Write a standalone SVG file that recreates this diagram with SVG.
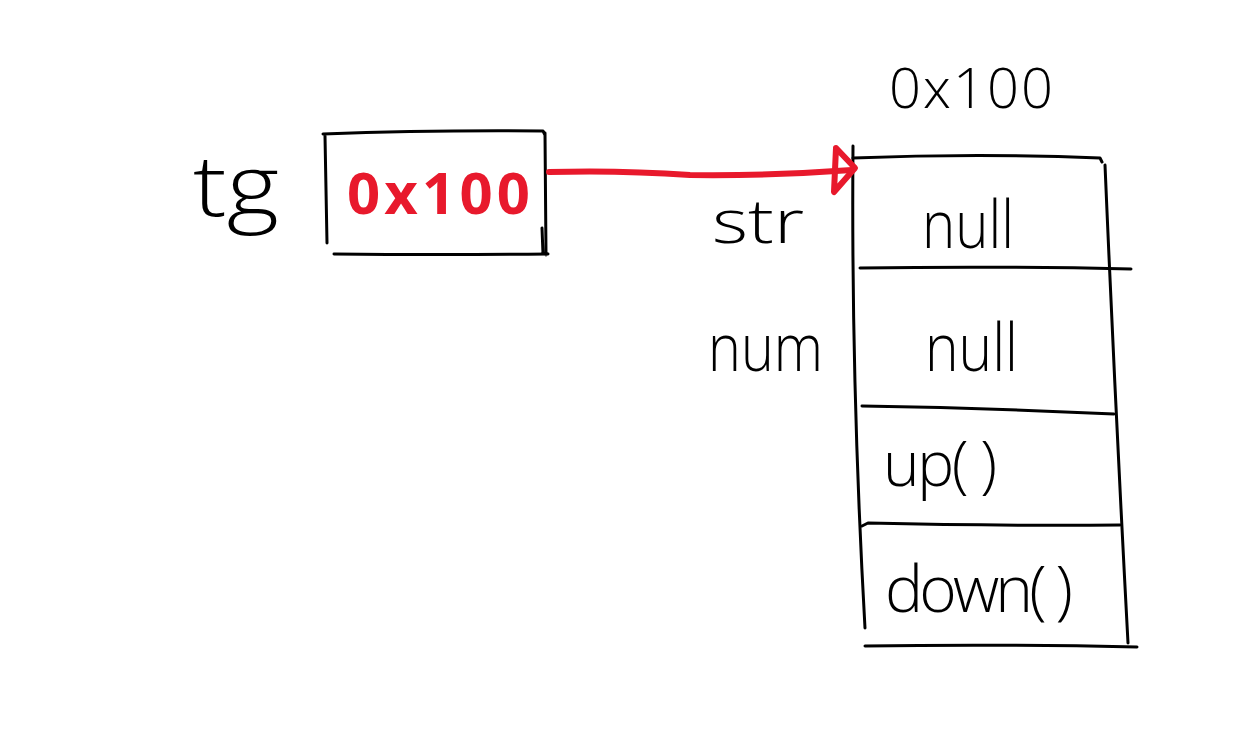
<svg xmlns="http://www.w3.org/2000/svg" width="1243" height="749" viewBox="0 0 1243 749">
  <style>
    .ink { fill: none; stroke: #000; stroke-width: 3; stroke-linecap: round; stroke-linejoin: round; }
    .red { fill: none; stroke: #e8192c; stroke-width: 6; stroke-linecap: round; stroke-linejoin: round; }
    .t { font-family: "Open Sans", "Noto Sans", "Liberation Sans", sans-serif; font-weight: 300; fill: #000; }
    .rt { font-family: "Open Sans", "Noto Sans", "Liberation Sans", sans-serif; font-weight: 700; fill: #e8192c; }
  </style>
  <rect x="0" y="0" width="1243" height="749" fill="#fff"/>

  <g id="tg-variable">
    <text class="t" x="193" y="216" font-size="84" textLength="86" lengthAdjust="spacingAndGlyphs">tg</text>
    <path class="ink" d="M323 134 Q430 130 543 131 L545 135 M325 136 L327 243 M545 133 L546 255 M542 228 L543 254 M334 254 Q440 255 548 254"/>
    <text class="rt" x="347" y="214" font-size="58" textLength="183" lengthAdjust="spacing">0x100</text>
  </g>

  <g id="object-0x100">
    <text class="t" x="889" y="108" font-size="56" textLength="164" lengthAdjust="spacing">0x100</text>
    <path class="ink" d="M853 158 Q980 153 1100 158 L1102 162"/>
    <path class="ink" d="M853 146 Q851 380 865 628"/>
    <path class="ink" d="M1105 165 Q1115 400 1128 643"/>
    <path class="ink" d="M860 268 Q1000 266 1131 269"/>
    <path class="ink" d="M862 406 Q990 408 1114 414"/>
    <path class="ink" d="M862 526 L868 523 Q1000 526 1120 525"/>
    <path class="ink" d="M865 646 Q1000 644 1137 647"/>
    <text class="t" x="712" y="243" font-size="60" textLength="92" lengthAdjust="spacingAndGlyphs">str</text>
    <text class="t" x="922" y="248" font-size="66" textLength="92" lengthAdjust="spacingAndGlyphs">null</text>
    <text class="t" x="708" y="371" font-size="66" textLength="115" lengthAdjust="spacingAndGlyphs">num</text>
    <text class="t" x="925" y="371" font-size="66" textLength="93" lengthAdjust="spacingAndGlyphs">null</text>
    <text class="t" x="883" y="486" font-size="62" textLength="114" lengthAdjust="spacing">up( )</text>
    <text class="t" x="885" y="612" font-size="64" textLength="188" lengthAdjust="spacing">down( )</text>
  </g>

  <g id="connectors">
    <path class="red" d="M549 172 Q620 170 690 175 Q770 176 852 170"/>
    <path class="red" d="M836 148 L855 168 L834 192 Z"/>
  </g>
</svg>
